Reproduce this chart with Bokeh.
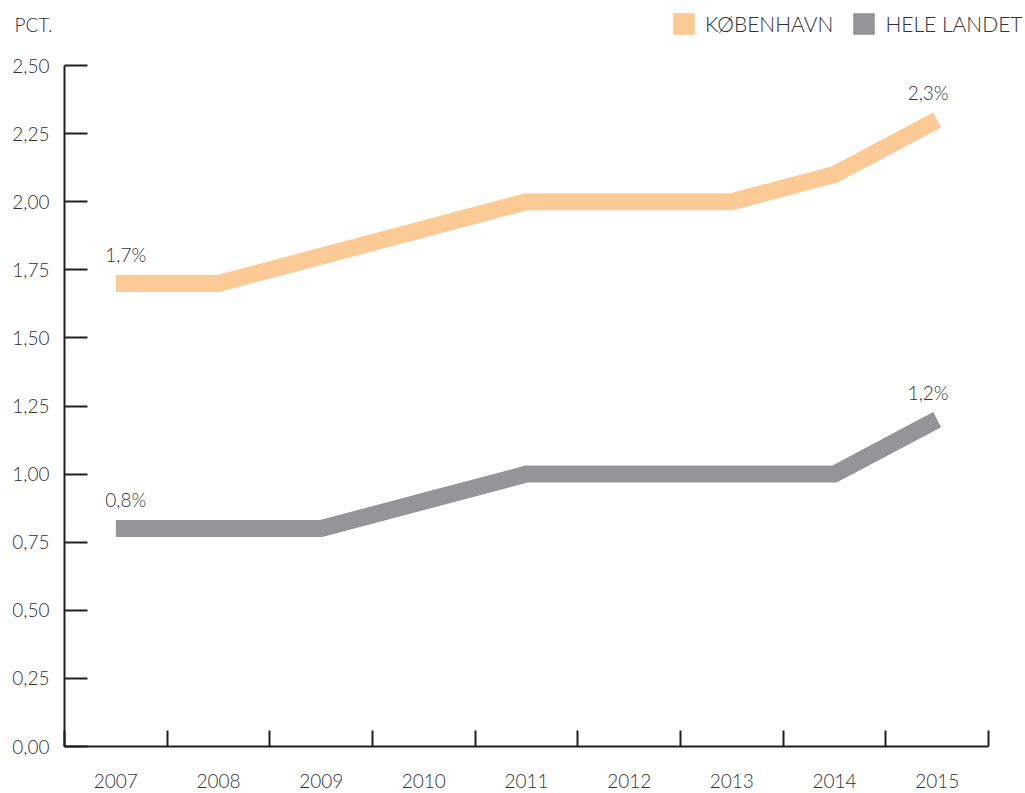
from bokeh.plotting import figure
from bokeh.models import (FixedTicker, CustomJSTickFormatter, Legend, LegendItem,
                          Label, ColumnDataSource)
from bokeh.core.properties import value
from bokeh.embed import file_html
from bokeh.resources import INLINE

# ---- data ----
years = [2007, 2008, 2009, 2010, 2011, 2012, 2013, 2014, 2015]
kobenhavn = [1.7, 1.7, 1.8, 1.9, 2.0, 2.0, 2.0, 2.1, 2.3]
hele_landet = [0.8, 0.8, 0.8, 0.9, 1.0, 1.0, 1.0, 1.0, 1.2]
series_names = ["KØBENHAVN", "HELE LANDET"]
y_ticks = [0.0, 0.25, 0.5, 0.75, 1.0, 1.25, 1.5, 1.75, 2.0, 2.25, 2.5]
unit_label = "PCT."

# ---- style ----
FONT = "Lato Light, Lato"
TEXT = "#333333"
AXIS = "#231f20"
ORANGE = "#FCCA95"
GRAY = "#939598"

W, H = 1025, 793
AX_LEFT, AX_RIGHT, AX_TOP, AX_BOTTOM = 64, 988, 65, 746   # plot box in pixels
px_per_year = (AX_RIGHT - AX_LEFT) / len(years)
px_per_unit = (AX_BOTTOM - AX_TOP) / (y_ticks[-1] - y_ticks[0])
x0 = years[0] - 0.5
x1 = years[-1] + 0.5
x_start = x0 - AX_LEFT / px_per_year
x_end = x0 + (W - AX_LEFT) / px_per_year
y_start = y_ticks[0] - (H - AX_BOTTOM) / px_per_unit
y_end = y_ticks[0] + AX_BOTTOM / px_per_unit

p = figure(width=W, height=H, output_backend="svg", toolbar_location=None,
           x_range=(x_start, x_end), y_range=(y_start, y_end),
           min_border_left=0, min_border_right=0, min_border_top=0,
           min_border_bottom=0)
p.grid.visible = False
p.outline_line_color = None
p.background_fill_color = "white"
p.border_fill_color = "white"

# lines
for vals, col in [(kobenhavn, ORANGE), (hele_landet, GRAY)]:
    p.line(years, vals, line_width=17, line_color=col, line_cap="butt", line_join="miter")

# end labels
def fmt(v):
    return ("%.1f" % v).replace(".", ",") + "%"

for vals in (kobenhavn, hele_landet):
    src = ColumnDataSource(dict(x=[years[0], years[-1]], y=[vals[0], vals[-1]],
                                t=[fmt(vals[0]), fmt(vals[-1])],
                                xo=[10, -9], yo=[-29, -27]))
    p.text(x="x", y="y", text="t", x_offset="xo", y_offset="yo", source=src,
           text_align="center", text_baseline="middle", text_font=value(FONT),
           text_font_size="19px", text_color=TEXT)

# legend swatches (renderers with no visible data, only used for the legend)
nan = float("nan")
r1 = p.rect(x=[nan], y=[nan], width=1, height=1, fill_color=ORANGE, line_color=None)
r2 = p.rect(x=[nan], y=[nan], width=1, height=1, fill_color=GRAY, line_color=None)
legend = Legend(items=[LegendItem(label=series_names[0], renderers=[r1]),
                       LegendItem(label=series_names[1], renderers=[r2])],
                orientation="horizontal", location=(670, H - 9.5 - 27), padding=0,
                margin=0, spacing=17, label_standoff=8, glyph_width=27,
                glyph_height=27, label_height=27, label_text_font=FONT,
                label_text_font_size="21px", label_text_color=TEXT,
                border_line_color=None, background_fill_alpha=0)
p.add_layout(legend, "center")

# unit label
p.add_layout(Label(x=14, y=H - 24, x_units="screen", y_units="screen",
                   text=unit_label, text_font=FONT, text_font_size="19px",
                   text_color=TEXT, text_baseline="middle", text_align="left"))

# x axis (fixed at y = 0)
xa = p.xaxis[0]
xa.fixed_location = y_ticks[0]
xa.bounds = (x0, x1)
xa.ticker = FixedTicker(ticks=years,
                        minor_ticks=[y - 0.5 for y in years] + [x1])
xa.major_tick_in = 0
xa.major_tick_out = 0
xa.minor_tick_in = 16
xa.minor_tick_out = 0
xa.minor_tick_line_color = AXIS
xa.minor_tick_line_width = 2
xa.axis_line_color = AXIS
xa.axis_line_width = 2
xa.major_label_standoff = 27
xa.major_label_text_font = FONT
xa.major_label_text_font_size = "19px"
xa.major_label_text_color = TEXT

# y axis (fixed at the left boundary of the year range)
ya = p.yaxis[0]
ya.fixed_location = x0
ya.bounds = (y_ticks[0], y_ticks[-1])
ya.ticker = FixedTicker(ticks=y_ticks)
ya.formatter = CustomJSTickFormatter(code="return tick.toFixed(2).replace('.', ',');")
ya.major_tick_in = 23
ya.major_tick_out = 0
ya.major_tick_line_color = AXIS
ya.major_tick_line_width = 2
ya.minor_tick_line_color = None
ya.axis_line_color = AXIS
ya.axis_line_width = 2
ya.major_label_standoff = 15
ya.major_label_text_font = FONT
ya.major_label_text_font_size = "19px"
ya.major_label_text_color = TEXT

open("out.html", "w").write(file_html(p, INLINE))
